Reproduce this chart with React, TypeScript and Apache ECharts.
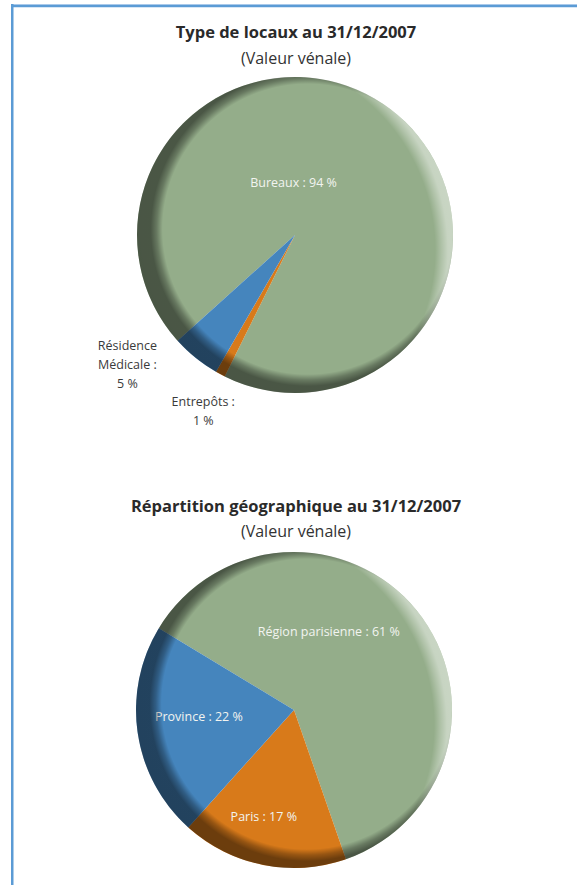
import React, { useEffect, useRef } from 'react';
import * as echarts from 'echarts';

// ---- data ----
const typeNames = ['Bureaux', 'Entrepôts', 'Résidence Médicale'];
const typeValues = [94, 1, 5];
const geoNames = ['Région parisienne', 'Paris', 'Province'];
const geoValues = [61, 17, 22];
const chartTitles = ['Type de locaux au 31/12/2007', 'Répartition géographique au 31/12/2007'];
const chartSubtitle = '(Valeur vénale)';

// ---- styles / layout ----
const GREEN = '#94AD8A';
const ORANGE = '#D87A1A';
const BLUE = '#4585BD';
const typeColors = [GREEN, ORANGE, BLUE];
const geoColors = [GREEN, ORANGE, BLUE];
const typeLabelColors = ['#F2F4F0', '#3A3A3A', '#3A3A3A'];
const geoLabelColors = ['#F2F4F0', '#F2F4F0', '#F2F4F0'];
const typeWrap = [false, true, true];
const geoWrap = [false, false, false];
const typeLabelShift = [[-51, 13], [-53, 104], [-116, 66]];
const geoLabelShift = [[-29, -27], [-14, 26], [-14, -5]];

const FONT = '"Open Sans", sans-serif';
const R = 158;
const PIE1 = { cx: 295, cy: 235, start: 222 };
const PIE2 = { cx: 294, cy: 710, start: 148.8 };
const TITLE_X = 296;

function buildData(names: string[], values: number[], colors: string[], labelColors: string[]) {
  return names.map((n, i) => ({
    name: n,
    value: values[i],
    itemStyle: { color: colors[i] },
    label: { color: labelColors[i] },
  }));
}

function makeFormatter(wrap: boolean[]) {
  return (p: any) => {
    const w = wrap[p.dataIndex];
    const name = w ? String(p.name).replace(' ', '\n') : p.name;
    return name + ' :' + (w ? '\n' : ' ') + p.value + ' %';
  };
}

// bevel shading: off-centre radial gradients give a dark crescent (lower-left)
// and a light crescent (upper-right) with soft inner edges
function bevel(cx: number, cy: number) {
  const deg = Math.PI / 180;
  // dark crescent
  const dOff = 14, dDir = 25 * deg, dStart = 145, dFade = 12, dR = 220;
  const dx = cx + dOff * Math.cos(dDir);
  const dy = cy - dOff * Math.sin(dDir);
  const dark = new echarts.graphic.RadialGradient(dx, dy, dR, [
    { offset: 0, color: 'rgba(0,0,0,0)' },
    { offset: dStart / dR, color: 'rgba(0,0,0,0)' },
    { offset: (dStart + dFade * 0.5) / dR, color: 'rgba(0,0,0,0.3)' },
    { offset: (dStart + dFade) / dR, color: 'rgba(0,0,0,0.5)' },
    { offset: 1, color: 'rgba(0,0,0,0.52)' },
  ], true);
  // light crescent
  const lOff = 58, lDir = 15 * deg, lStart = 196, lFade = 13, lR = 240;
  const lx = cx - lOff * Math.cos(lDir);
  const ly = cy + lOff * Math.sin(lDir);
  const light = new echarts.graphic.RadialGradient(lx, ly, lR, [
    { offset: 0, color: 'rgba(255,255,255,0)' },
    { offset: lStart / lR, color: 'rgba(255,255,255,0)' },
    { offset: (lStart + lFade * 0.5) / lR, color: 'rgba(255,255,255,0.25)' },
    { offset: (lStart + lFade) / lR, color: 'rgba(255,255,255,0.48)' },
    { offset: 1, color: 'rgba(255,255,255,0.55)' },
  ], true);
  return [
    { type: 'circle', silent: true, z: 10, shape: { cx, cy, r: R }, style: { fill: dark } },
    { type: 'circle', silent: true, z: 11, shape: { cx, cy, r: R }, style: { fill: light } },
  ];
}

function pieSeries(pie: any, names: string[], values: number[], colors: string[], labelColors: string[], wrap: boolean[], shift: number[][]) {
  return {
    type: 'pie',
    center: [pie.cx, pie.cy],
    radius: R,
    startAngle: pie.start,
    clockwise: true,
    avoidLabelOverlap: false,
    silent: true,
    itemStyle: { borderWidth: 0 },
    label: {
      show: true,
      position: 'inside',
      formatter: makeFormatter(wrap),
      fontFamily: FONT,
      fontSize: 12.5,
      lineHeight: 19,
      align: 'center',
    },
    labelLine: { show: false },
    labelLayout: (p: any) => ({ dx: shift[p.dataIndex][0], dy: shift[p.dataIndex][1] }),
    data: buildData(names, values, colors, labelColors),
  };
}

function titleText(text: string, y: number, bold: boolean) {
  return {
    type: 'text',
    x: TITLE_X,
    y,
    silent: true,
    style: {
      text,
      fontFamily: FONT,
      fontSize: bold ? 16.5 : 16,
      fontWeight: bold ? 'bold' : 'normal',
      fill: bold ? '#2A2A2A' : '#333333',
      align: 'center',
      verticalAlign: 'middle',
    },
  };
}

export default function App() {
  const ref = useRef<HTMLDivElement>(null);
  useEffect(() => {
    if (!ref.current) return;
    const chart = echarts.init(ref.current, undefined, { renderer: 'svg' });
    chart.setOption({
      animation: false,
      backgroundColor: '#FFFFFF',
      graphic: [
        { type: 'rect', silent: true, shape: { x: 11, y: 4, width: 566, height: 1 }, style: { fill: '#A9C9EA' } },
        { type: 'rect', silent: true, shape: { x: 11, y: 5, width: 566, height: 2.2 }, style: { fill: '#5B9BD5' } },
        { type: 'rect', silent: true, shape: { x: 11, y: 4, width: 2.5, height: 881 }, style: { fill: '#5B9BD5' } },
        titleText(chartTitles[0], 31, true),
        titleText(chartSubtitle, 58, false),
        titleText(chartTitles[1], 505, true),
        titleText(chartSubtitle, 531, false),
        ...bevel(PIE1.cx, PIE1.cy),
        ...bevel(PIE2.cx, PIE2.cy),
      ],
      series: [
        pieSeries(PIE1, typeNames, typeValues, typeColors, typeLabelColors, typeWrap, typeLabelShift),
        pieSeries(PIE2, geoNames, geoValues, geoColors, geoLabelColors, geoWrap, geoLabelShift),
      ],
    });
    return () => chart.dispose();
  }, []);
  return (
    <div
      ref={ref}
      style={{ position: 'absolute', left: 0, top: 0, width: 577, height: 885 }}
    />
  );
}
